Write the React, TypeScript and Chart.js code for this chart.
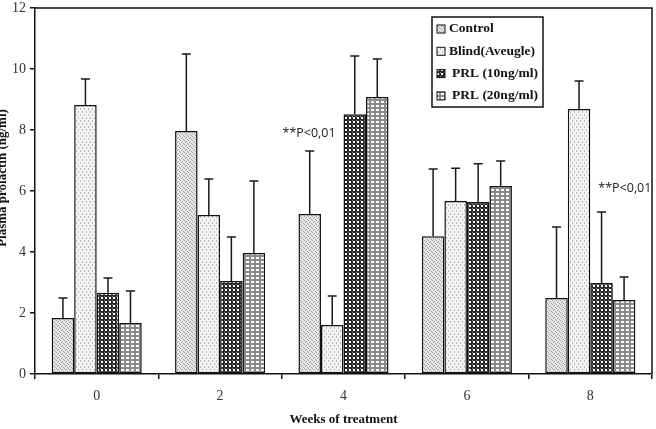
import React, { useEffect, useRef } from "react";
import { Chart, registerables } from "chart.js";

Chart.register(...registerables);

const categories = ["0", "2", "4", "6", "8"];
const seriesNames = ["Control", "Blind(Aveugle)", "PRL (10ng/ml)", "PRL (20ng/ml)"];
const controlValues = [1.84, 7.97, 5.25, 4.52, 2.49];
const controlSD = [0.65, 2.52, 2.06, 2.2, 2.33];
const blindValues = [8.82, 5.21, 1.61, 5.67, 8.69];
const blindSD = [0.85, 1.18, 0.95, 1.08, 0.92];
const prl10Values = [2.66, 3.05, 8.52, 5.64, 2.98];
const prl10SD = [0.49, 1.44, 1.91, 1.25, 2.33];
const prl20Values = [1.67, 3.97, 9.08, 6.16, 2.43];
const prl20SD = [1.05, 2.36, 1.25, 0.82, 0.75];
const yTicks = [0, 2, 4, 6, 8, 10, 12];
const annotationText = "**P<0,01";
const annotations = [
  { category: 2, value: 7.9, dx: -61 },
  { category: 4, value: 6.1, dx: 8 },
];

function makePattern(kind: number): CanvasPattern | string {
  const c = document.createElement("canvas");
  const ctx = c.getContext("2d")!;
  if (kind === 0) {
    c.width = 4; c.height = 4;
    ctx.fillStyle = "#e8e8e8"; ctx.fillRect(0, 0, 4, 4);
    ctx.fillStyle = "#a0a0a0";
    ctx.fillRect(0, 0, 1, 1); ctx.fillRect(2, 1, 1, 1); ctx.fillRect(1, 2, 1, 1); ctx.fillRect(3, 3, 1, 1);
  } else if (kind === 1) {
    c.width = 4; c.height = 6;
    ctx.fillStyle = "#f4f4f4"; ctx.fillRect(0, 0, 4, 6);
    ctx.fillStyle = "#b8b8b8";
    ctx.fillRect(0, 0, 1, 2); ctx.fillRect(2, 3, 1, 2);
  } else if (kind === 2) {
    c.width = 4; c.height = 4;
    ctx.fillStyle = "#262626"; ctx.fillRect(0, 0, 4, 4);
    ctx.fillStyle = "#ffffff";
    ctx.fillRect(1, 1, 2, 2);
    ctx.fillStyle = "#888888";
    ctx.fillRect(0, 0, 1, 1);
  } else {
    c.width = 5; c.height = 4;
    ctx.fillStyle = "#8a8a8a"; ctx.fillRect(0, 0, 5, 4);
    ctx.fillStyle = "#ffffff";
    ctx.fillRect(1, 1, 3, 2);
  }
  return ctx.createPattern(c, "repeat") || "#ccc";
}

export default function App() {
  const ref = useRef<HTMLCanvasElement>(null);
  useEffect(() => {
    const values = [controlValues, blindValues, prl10Values, prl20Values];
    const sds = [controlSD, blindSD, prl10SD, prl20SD];
    const patterns = [0, 1, 2, 3].map((k) => makePattern(k));

    const errorBars = {
      id: "errorBars",
      afterDatasetsDraw(chart: any) {
        const ctx = chart.ctx;
        const y = chart.scales.y;
        ctx.save();
        ctx.strokeStyle = "#1a1a1a";
        ctx.lineWidth = 1.5;
        chart.data.datasets.forEach((ds: any, i: number) => {
          const meta = chart.getDatasetMeta(i);
          meta.data.forEach((bar: any, j: number) => {
            const top = y.getPixelForValue(values[i][j] + sds[i][j]);
            const base = bar.y;
            ctx.beginPath();
            ctx.moveTo(bar.x, base);
            ctx.lineTo(bar.x, top);
            ctx.moveTo(bar.x - 4.5, top);
            ctx.lineTo(bar.x + 4.5, top);
            ctx.stroke();
          });
        });
        ctx.restore();
      },
    };

    const decorations = {
      id: "decorations",
      afterDraw(chart: any) {
        const ctx = chart.ctx;
        const a = chart.chartArea;
        const xs = chart.scales.x;
        const ys = chart.scales.y;
        ctx.save();
        ctx.strokeStyle = "#111";
        ctx.lineWidth = 1.5;
        ctx.beginPath();
        ctx.moveTo(a.left, a.top);
        ctx.lineTo(a.right, a.top);
        ctx.lineTo(a.right, a.bottom);
        ctx.stroke();
        ctx.fillStyle = "#111";
        ctx.font = "bold 13px 'Liberation Serif'";
        ctx.textAlign = "center";
        ctx.textBaseline = "middle";
        ctx.fillText("Weeks of treatment", (a.left + a.right) / 2, 420);
        ctx.save();
        ctx.translate(3, 178);
        ctx.rotate(-Math.PI / 2);
        ctx.fillText("Plasma prolactin (ng/ml)", 0, 0);
        ctx.restore();
        ctx.font = "12.5px 'Open Sans'";
        ctx.textAlign = "left";
        ctx.fillStyle = "#222";
        annotations.forEach((an) => {
          const x = xs.getPixelForValue(an.category) + an.dx;
          const yy = ys.getPixelForValue(an.value);
          ctx.fillText(annotationText, x, yy);
        });
        const lx = 432, ly = 17, lw = 111, lh = 90;
        ctx.fillStyle = "#fff";
        ctx.fillRect(lx, ly, lw, lh);
        ctx.strokeStyle = "#111";
        ctx.lineWidth = 1.5;
        ctx.strokeRect(lx, ly, lw, lh);
        ctx.font = "bold 13.5px 'Liberation Serif'";
        ctx.textBaseline = "middle";
        seriesNames.forEach((name, i) => {
          const cy = ly + 12 + i * 22.3;
          ctx.fillStyle = patterns[i] as any;
          ctx.fillRect(lx + 5, cy - 4, 8, 8);
          ctx.strokeStyle = "#111";
          ctx.lineWidth = 1;
          ctx.strokeRect(lx + 5, cy - 4, 8, 8);
          ctx.fillStyle = "#111";
          ctx.fillText(name, lx + (i >= 2 ? 20 : 17), cy);
        });
        ctx.restore();
      },
    };

    const chart = new Chart(ref.current!, {
      type: "bar",
      data: {
        labels: categories,
        datasets: seriesNames.map((name, i) => ({
          label: name,
          data: values[i],
          backgroundColor: patterns[i] as any,
          borderColor: "#111",
          borderWidth: 1.5,
          borderSkipped: false,
          categoryPercentage: 0.73,
          barPercentage: 1.0,
        })),
      },
      options: {
        responsive: false,
        animation: false,
        devicePixelRatio: 1,
        layout: { padding: { left: 0, top: 8, right: 4, bottom: 0 } },
        plugins: {
          legend: { display: false },
          tooltip: { enabled: false },
        },
        scales: {
          x: {
            offset: true,
            grid: {
              offset: true,
              drawOnChartArea: false,
              drawTicks: true,
              tickLength: 5,
              color: "#111",
              lineWidth: 1.5,
            },
            border: { color: "#111", width: 1.5 },
            ticks: {
              color: "#333",
              font: { family: "'Liberation Serif'", size: 14 },
              padding: 9,
            },
            afterFit(scale: any) {
              scale.height = 55;
            },
          },
          y: {
            min: 0,
            max: 12,
            afterBuildTicks(scale: any) {
              scale.ticks = yTicks.map((v) => ({ value: v }));
            },
            grid: {
              drawOnChartArea: false,
              drawTicks: true,
              tickLength: 5,
              color: "#111",
              lineWidth: 1.5,
            },
            border: { color: "#111", width: 1.5 },
            ticks: {
              color: "#333",
              font: { family: "'Liberation Serif'", size: 14 },
              padding: 4,
            },
            afterFit(scale: any) {
              scale.width = 35;
              scale.paddingTop = 0;
              scale.paddingBottom = 0;
            },
          },
        },
      },
      plugins: [errorBars, decorations],
    });
    return () => chart.destroy();
  }, []);

  return (
    <div style={{ position: "absolute", left: 0, top: 0, width: 656, height: 429, background: "#fff" }}>
      <canvas ref={ref} width={656} height={429} />
    </div>
  );
}
